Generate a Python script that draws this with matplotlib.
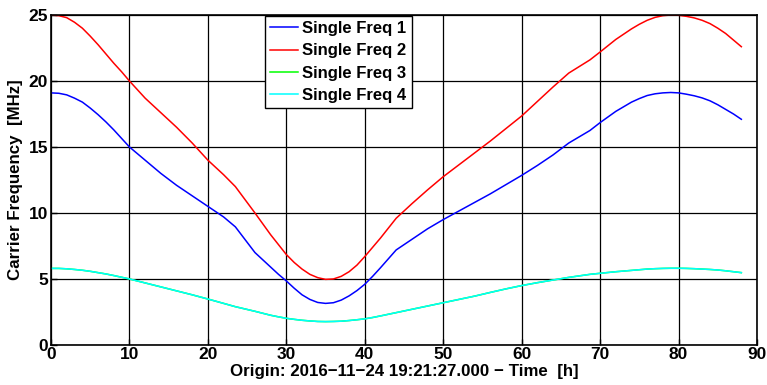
import matplotlib
matplotlib.use("Agg")
import matplotlib.pyplot as plt

plt.rcParams['font.family'] = ['Liberation Sans', 'DejaVu Sans']
plt.rcParams['font.weight'] = 'bold'

# time since origin [h]
hours = [0, 1, 2, 3, 4, 5, 6, 7, 8, 9, 10, 12, 14, 16, 18, 20, 22, 23.5, 26,
         28, 29, 30, 31, 32, 33, 34, 35, 36, 37, 38, 39, 40, 41, 42,
         44, 46, 48, 50, 52, 54, 56, 58, 60, 62, 64, 66, 68.7, 70, 72,
         74, 75, 76, 77, 78, 79, 80, 81, 82, 83, 84, 85, 86, 87, 88]

# carrier frequencies [MHz]
freq1 = [19.1, 19.07, 18.95, 18.7, 18.4, 17.95, 17.45, 16.9, 16.3, 15.65, 15.0,
         14.0, 13.0, 12.1, 11.3, 10.5, 9.7, 8.95, 7.0,
         5.9, 5.35, 4.85, 4.3, 3.8, 3.45, 3.22, 3.15, 3.2, 3.4, 3.72, 4.12, 4.6, 5.2, 5.85,
         7.2, 8.0, 8.8, 9.5, 10.15, 10.8, 11.45, 12.15, 12.85, 13.6, 14.4, 15.3, 16.25,
         16.85, 17.7,
         18.4, 18.67, 18.9, 19.03, 19.1, 19.13, 19.1, 19.0, 18.88, 18.72, 18.5, 18.2,
         17.85, 17.5, 17.1]
freq2 = [25.0, 24.95, 24.8, 24.45, 24.0, 23.4, 22.75, 22.05, 21.35, 20.7, 20.0,
         18.7, 17.6, 16.5, 15.3, 14.0, 12.9, 12.0, 10.0,
         8.35, 7.6, 6.85, 6.25, 5.75, 5.35, 5.1, 4.97, 5.0, 5.2, 5.55, 6.05, 6.7, 7.4, 8.1,
         9.6, 10.7, 11.75, 12.75, 13.65, 14.55, 15.45, 16.4, 17.35, 18.45, 19.55, 20.6,
         21.6, 22.2, 23.15,
         23.95, 24.3, 24.6, 24.82, 24.95, 25.0, 24.98, 24.9, 24.78, 24.6, 24.35, 24.0,
         23.6, 23.1, 22.6]
freq4 = [5.8, 5.8, 5.77, 5.72, 5.66, 5.58, 5.48, 5.38, 5.26, 5.13, 5.0,
         4.7, 4.4, 4.1, 3.8, 3.48, 3.15, 2.9, 2.55,
         2.25, 2.13, 2.02, 1.94, 1.87, 1.82, 1.78, 1.77, 1.78, 1.8, 1.85, 1.91, 1.98,
         2.08, 2.2,
         2.45, 2.7, 2.95, 3.2, 3.45, 3.7, 3.98, 4.25, 4.5, 4.72, 4.92, 5.12, 5.35,
         5.43, 5.55,
         5.65, 5.7, 5.75, 5.78, 5.8, 5.81, 5.81, 5.8, 5.78, 5.75, 5.72, 5.68,
         5.62, 5.55, 5.48]
freq3 = list(freq4)  # same carrier as freq 4, hidden underneath

labels = ['Single Freq 1', 'Single Freq 2', 'Single Freq 3', 'Single Freq 4']
colors = ['#0000ff', '#ff0000', '#00ff00', '#00ffff']

fig = plt.figure(figsize=(7.67, 3.85), dpi=100)
ax = fig.add_axes([0.0665, 0.104, 0.9205, 0.857])

for y, lab, c in zip([freq1, freq2, freq3, freq4], labels, colors):
    ax.plot(hours, y, color=c, lw=1.1, label=lab)

ax.set_xlim(0, 90)
ax.set_ylim(0, 25)
ax.set_xticks(range(0, 91, 10))
ax.set_yticks(range(0, 26, 5))
ax.grid(True, color='black', lw=0.9)
ax.set_axisbelow(True)
ax.tick_params(direction='in', labelsize=12.5, length=4, width=1, pad=2)
ax.tick_params(axis='x', pad=1.5)
for lbl in ax.get_xticklabels() + ax.get_yticklabels():
    lbl.set_fontweight('bold')
for s in ax.spines.values():
    s.set_linewidth(1.2)

ax.set_xlabel('Origin: 2016\u221211\u221224 19:21:27.000 \u2212 Time  [h]',
              fontsize=12.2, fontweight='bold')
ax.xaxis.set_label_coords(0.5, -0.058)
ax.set_ylabel('Carrier Frequency  [MHz]', fontsize=12.2, fontweight='bold', labelpad=4)

leg = ax.legend(loc='upper left', bbox_to_anchor=(0.303, 0.997), fancybox=False,
                framealpha=1, edgecolor='black', handlelength=1.7,
                handletextpad=0.25, borderpad=0.3, labelspacing=0.44,
                borderaxespad=0, prop={'weight': 'bold', 'size': 12})
leg.get_frame().set_linewidth(1.0)

fig.savefig('out.png', dpi=100)
